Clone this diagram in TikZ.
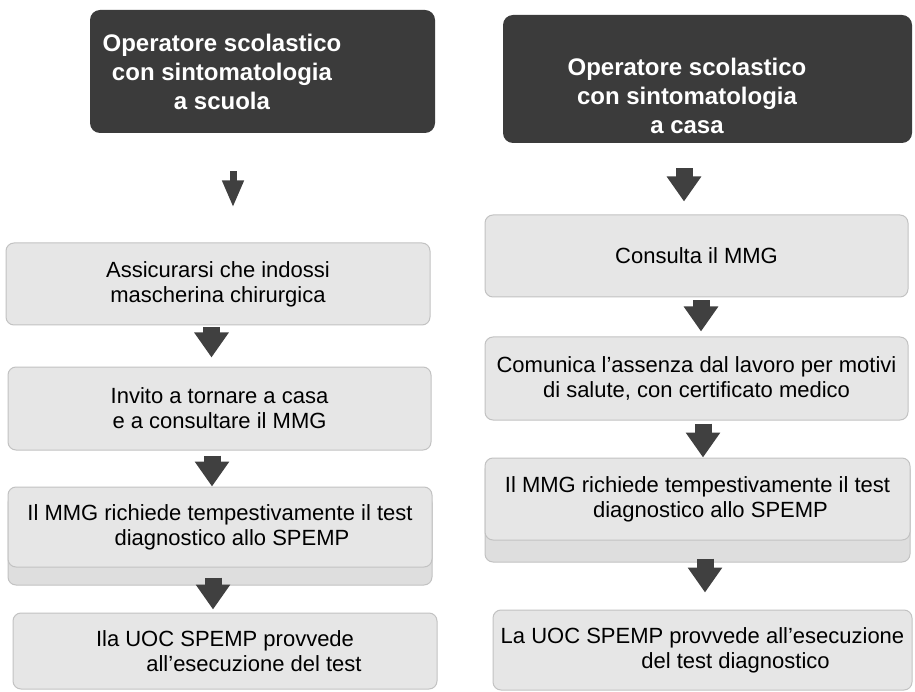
\documentclass[tikz,border=0pt]{standalone}
\usepackage{fontspec}
\setmainfont{Liberation Sans}
\usetikzlibrary{arrows.meta}
\definecolor{darkbox}{HTML}{3B3B3B}
\definecolor{lightbox}{HTML}{E6E6E6}
\definecolor{lightback}{HTML}{DEDEDE}
\definecolor{boxline}{HTML}{C2C2C2}
\definecolor{arrowcol}{HTML}{404040}
\tikzset{
  darkstyle/.style={rectangle, rounded corners=10pt, fill=darkbox, draw=none, inner sep=0pt},
  darktext/.style={text=white, align=center, inner sep=0pt, font=\fontsize{24}{29}\selectfont\bfseries},
  lightstyle/.style={rectangle, rounded corners=8pt, fill=lightbox, draw=boxline, line width=1pt, inner sep=0pt, align=center, font=\fontsize{22}{25}\selectfont},
  backstyle/.style={rectangle, rounded corners=8pt, fill=lightback, draw=boxline, line width=1pt, inner sep=0pt},
  bigarrow/.style={draw=arrowcol, line width=17pt, -{Triangle[width=33pt,length=25pt]}, arrowcol},
  thinarrow/.style={draw=arrowcol, line width=7pt, -{Triangle[width=20pt,length=27pt]}, arrowcol},
}
\begin{document}
\begin{tikzpicture}[x=1pt,y=-1pt]
\useasboundingbox (0,0) rectangle (915,692);
% left column
\node[darkstyle, minimum width=345pt, minimum height=123pt] (d1) at (262.5,71.5) {};
\node[darktext] (d1t) at (222,72) {Operatore scolastico\\con sintomatologia\\a scuola};
\node[lightstyle, minimum width=424pt, minimum height=82pt] (b2) at (218,284) {Assicurarsi che indossi\\mascherina chirurgica};
\node[lightstyle, minimum width=423pt, minimum height=83pt] (b3) at (219.5,408.5) {Invito a tornare a casa\\e a consultare il MMG};
\node[backstyle, minimum width=424pt, minimum height=90pt] (b4b) at (220,540) {};
\node[lightstyle, minimum width=424pt, minimum height=80pt] (b4) at (220,527) {Il MMG richiede tempestivamente il test\\\hspace*{24pt}diagnostico allo SPEMP};
\node[lightstyle, minimum width=424pt, minimum height=76pt] (b5) at (225,651) {Ila UOC SPEMP provvede\\\hspace*{58pt}all’esecuzione del test};
% right column
\node[darkstyle, minimum width=409pt, minimum height=128pt] (d2) at (707.5,79) {};
\node[darktext] (d2t) at (687,96) {Operatore scolastico\\con sintomatologia\\a casa};
\node[lightstyle, minimum width=423pt, minimum height=82pt] (c2) at (696.5,256) {Consulta il MMG};
\node[lightstyle, minimum width=423pt, minimum height=83pt] (c3) at (696.5,378.5) {Comunica l’assenza dal lavoro per motivi\\di salute, con certificato medico};
\node[backstyle, minimum width=425pt, minimum height=100pt] (c4b) at (697.5,512) {};
\node[lightstyle, minimum width=425pt, minimum height=82pt] (c4) at (697.5,499) {Il MMG richiede tempestivamente il test\\\hspace*{26pt}diagnostico allo SPEMP};
\node[lightstyle, minimum width=419pt, minimum height=80pt] (c5) at (702.5,650) {La UOC SPEMP provvede all’esecuzione\\\hspace*{66pt}del test diagnostico};
% arrows left
\draw[thinarrow] ([xshift=-29.5pt,yshift=-38pt]d1.south) -- ([xshift=15pt,yshift=35pt]b2.north);
\draw[bigarrow] ([xshift=-6.5pt,yshift=-2pt]b2.south) -- ([xshift=-8pt,yshift=9pt]b3.north);
\draw[bigarrow] ([xshift=-7.5pt,yshift=-5pt]b3.south) -- ([xshift=-8pt,yshift=0pt]b4.north);
\draw[bigarrow] ([xshift=-7pt,yshift=-10pt]b4.south) -- ([xshift=-12pt,yshift=3pt]b5.north);
% arrows right
\draw[bigarrow] ([xshift=-23.5pt,yshift=-25pt]d2.south) -- ([xshift=-12.5pt,yshift=13pt]c2.north);
\draw[bigarrow] ([xshift=4.5pt,yshift=-3pt]c2.south) -- ([xshift=4.5pt,yshift=5pt]c3.north);
\draw[bigarrow] ([xshift=6.5pt,yshift=-3pt]c3.south) -- ([xshift=5.5pt,yshift=0pt]c4.north);
\draw[bigarrow] ([xshift=7.5pt,yshift=-18pt]c4.south) -- ([xshift=2.5pt,yshift=17pt]c5.north);
\end{tikzpicture}
\end{document}
